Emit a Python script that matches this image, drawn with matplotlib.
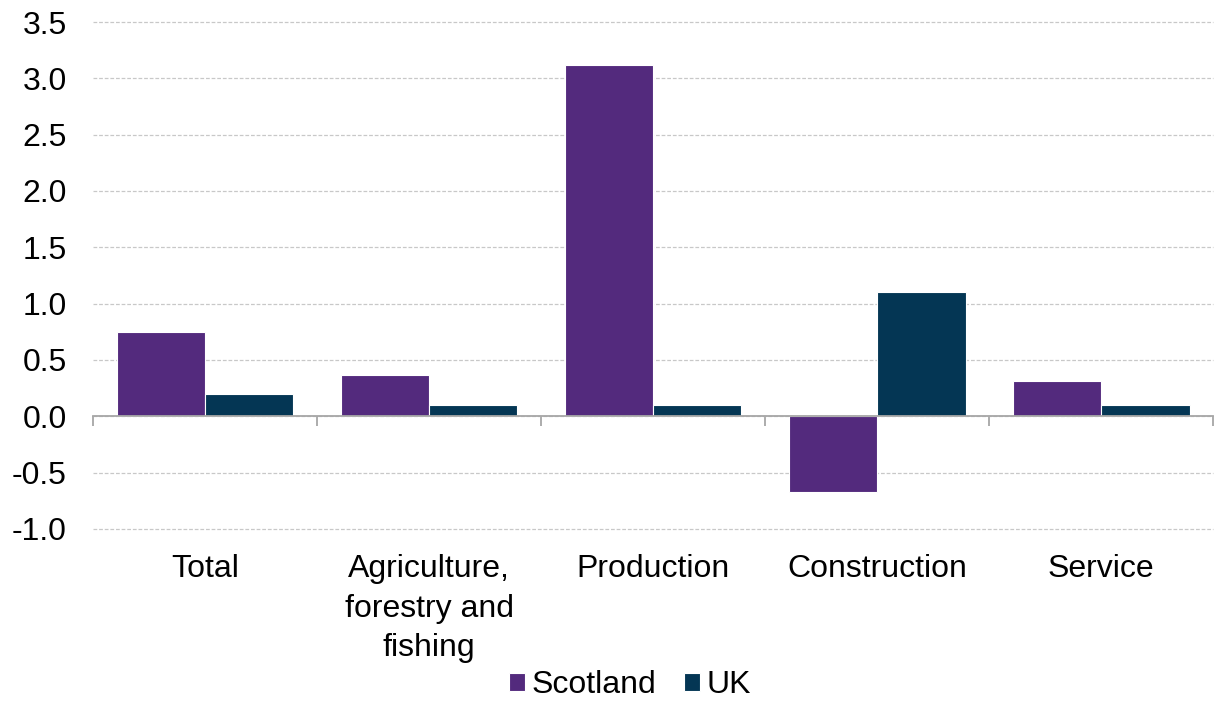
import matplotlib

matplotlib.use("Agg")
import matplotlib.pyplot as plt
import numpy as np

# Percentage change by sector, Scotland vs UK
categories = ["Total", "Agriculture,\nforestry and\nfishing", "Production", "Construction", "Service"]
scotland = [0.75, 0.37, 3.12, -0.67, 0.31]
uk = [0.2, 0.1, 0.1, 1.1, 0.1]
y_ticks = [-1.0, -0.5, 0.0, 0.5, 1.0, 1.5, 2.0, 2.5, 3.0, 3.5]

SCOTLAND_COLOR = "#532a7d"
UK_COLOR = "#043654"
FONT_SIZE = 23

plt.rcParams["font.family"] = ["Liberation Sans", "DejaVu Sans"]

fig = plt.figure(figsize=(12.14, 7.01), dpi=100)
ax = fig.add_axes([0.0766, 0.2454, 0.9226, 0.7232])

x = np.arange(len(categories))
width = 0.395
ax.bar(x - width / 2, scotland, width, color=SCOTLAND_COLOR, edgecolor="white",
       linewidth=0.8, label="Scotland", zorder=3)
ax.bar(x + width / 2, uk, width, color=UK_COLOR, edgecolor="white",
       linewidth=0.8, label="UK", zorder=3)

ax.set_xlim(-0.5, len(categories) - 0.5)
ax.set_ylim(-1.0, 3.5)
ax.set_yticks(y_ticks)
ax.set_yticklabels([f"{v:.1f}" for v in y_ticks], fontsize=FONT_SIZE)
ax.tick_params(axis="y", length=0, pad=19)
ax.yaxis.grid(True, color="#c8c8c8", linestyle=(0, (3, 1.5)), linewidth=0.9, zorder=0)
for line in ax.get_ygridlines():
    line.set_clip_on(False)

# category axis sits on the zero line, ticks at group boundaries
ax.spines["bottom"].set_position(("data", 0))
ax.spines["bottom"].set_color("#a6a6a6")
ax.spines["bottom"].set_linewidth(1.3)
ax.spines["bottom"].set_zorder(4)
for side in ["left", "right", "top"]:
    ax.spines[side].set_visible(False)
ax.set_xticks(np.arange(len(categories) + 1) - 0.5)
ax.set_xticklabels([])
ax.tick_params(axis="x", direction="out", length=7, width=1.3, color="#a6a6a6")

for i, label in enumerate(categories):
    ax.annotate(label, xy=(i, 0), xycoords=("data", "axes fraction"),
                xytext=(0, -18), textcoords="offset points",
                ha="center", va="top", fontsize=FONT_SIZE, linespacing=1.42)

fig.legend(loc="center", bbox_to_anchor=(630 / 1214, 1 - 685 / 701), ncol=2,
           frameon=False, fontsize=FONT_SIZE, handlelength=0.5, handleheight=0.5,
           handletextpad=0.2, columnspacing=0.85, borderpad=0)

fig.savefig("out.png", dpi=100)
